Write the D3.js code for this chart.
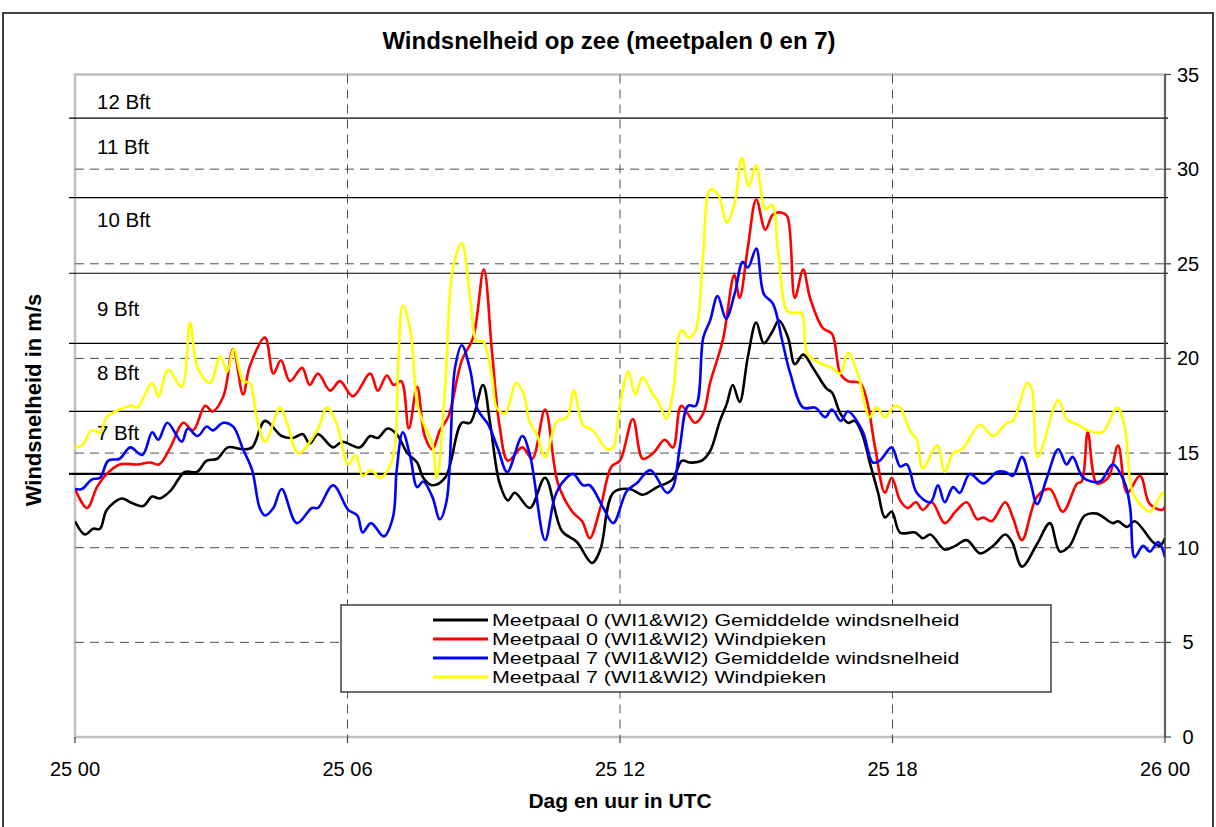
<!DOCTYPE html>
<html><head><meta charset="utf-8">
<script src="https://cdn.jsdelivr.net/npm/d3@7"></script>
<style>html,body{margin:0;padding:0;background:#fff}svg{display:block}text{font-family:"Liberation Sans",Arial,sans-serif}</style>
</head><body><div id="chart"></div>
<script>
// ---- data (minutes after 25 00 UTC, m/s) ----
const xTickMinutes = [0, 360, 720, 1080, 1440];
const xTickLabels = ["25 00", "25 06", "25 12", "25 18", "26 00"];
const yTicks = [0, 5, 10, 15, 20, 25, 30, 35];
const gridValues = [5, 10, 15, 20, 25, 30];
const bftLimits = [13.9, 17.2, 20.8, 24.5, 28.5, 32.7];
const bftLabels = ["7 Bft", "8 Bft", "9 Bft", "10 Bft", "11 Bft", "12 Bft"];
const bftLabelPos = [16.1, 19.27, 22.65, 27.35, 31.2, 33.6];
const seriesNames = [
  "Meetpaal 0 (WI1&WI2) Gemiddelde windsnelheid",
  "Meetpaal 0 (WI1&WI2) Windpieken",
  "Meetpaal 7 (WI1&WI2) Gemiddelde windsnelheid",
  "Meetpaal 7 (WI1&WI2) Windpieken"];
const seriesColors = ["#000000", "#ff0000", "#0000ff", "#ffff00"];

const mp0Mean = [[0,11.4],[13,10.7],[24,11.0],[33,11.0],[42,12.0],[62,12.6],[73,12.4],[90,12.2],[102,12.7],[112,12.6],[126,13.0],[145,14.0],[161,14.0],[174,14.6],[188,14.7],[202,15.3],[222,15.2],[234,15.3],[251,16.7],[273,15.9],[288,15.8],[301,16.0],[310,15.5],[321,16.0],[341,15.3],[353,15.6],[376,15.3],[390,15.9],[400,15.8],[413,16.3],[425,16.0],[439,15.0],[452,14.5],[460,13.7],[472,13.3],[489,13.7],[511,16.6],[522,16.6],[539,18.6],[548,16.7],[561,13.4],[572,12.5],[581,12.9],[601,12.1],[621,13.7],[643,10.9],[663,10.3],[683,9.2],[694,9.9],[711,12.9],[733,13.1],[750,12.8],[769,13.2],[789,13.6],[802,14.6],[812,14.5],[828,14.6],[839,15.1],[852,16.7],[861,17.6],[869,18.6],[878,17.7],[889,20.1],[900,21.9],[910,20.8],[921,21.4],[930,22.0],[942,21.1],[951,19.7],[962,20.2],[975,19.5],[993,18.4],[1000,18.2],[1011,17.1],[1021,16.6],[1030,16.7],[1040,16.0],[1050,14.5],[1061,12.9],[1070,11.6],[1079,11.9],[1090,10.8],[1110,10.8],[1120,10.5],[1130,10.7],[1149,9.9],[1163,10.1],[1178,10.4],[1196,9.7],[1213,10.1],[1229,10.7],[1238,10.3],[1251,9.0],[1271,10.2],[1288,11.3],[1301,9.8],[1314,10.1],[1334,11.7],[1350,11.8],[1371,11.3],[1378,11.4],[1390,11.1],[1400,11.4],[1424,10.3],[1433,10.1],[1440,10.5]];

const mp0Peak = [[0,13.1],[16,12.1],[29,13.2],[42,13.9],[59,14.4],[82,14.4],[99,14.5],[111,14.4],[126,15.3],[143,16.6],[156,16.2],[172,17.5],[182,17.2],[196,18.0],[209,20.5],[222,18.1],[231,19.6],[251,21.1],[262,19.2],[272,19.9],[284,18.8],[300,19.5],[310,18.6],[321,19.2],[337,18.3],[350,18.8],[367,18.0],[390,19.2],[400,18.3],[412,19.1],[421,18.6],[431,18.8],[441,16.3],[452,18.5],[462,15.9],[472,15.2],[482,16.2],[493,16.9],[511,19.9],[526,21.1],[540,24.7],[551,20.3],[561,16.4],[572,14.6],[591,15.3],[604,14.7],[621,17.3],[638,13.4],[657,11.9],[670,11.4],[680,10.5],[694,12.1],[709,14.3],[720,14.6],[737,16.8],[750,14.7],[764,15.0],[779,15.7],[790,15.3],[801,17.5],[819,16.6],[830,17.1],[839,18.7],[856,21.0],[871,24.4],[878,23.2],[889,25.9],[900,28.4],[912,26.8],[922,27.6],[934,27.7],[941,27.5],[951,23.2],[962,24.7],[971,23.2],[988,21.6],[1000,21.3],[1011,19.2],[1021,18.8],[1037,18.7],[1046,17.8],[1057,15.3],[1070,12.9],[1079,13.7],[1090,12.5],[1100,12.1],[1111,12.4],[1120,12.0],[1132,12.4],[1149,11.3],[1163,11.9],[1178,12.4],[1192,11.5],[1200,11.6],[1211,11.4],[1229,12.4],[1239,11.6],[1251,10.4],[1271,12.7],[1288,13.1],[1305,11.9],[1324,13.4],[1330,13.5],[1338,16.1],[1350,13.4],[1365,13.7],[1378,15.4],[1390,12.9],[1407,13.8],[1420,12.3],[1437,12.0],[1440,12.2]];

const mp7Mean = [[0,13.1],[9,13.1],[22,13.6],[33,13.7],[44,14.6],[59,14.7],[73,15.3],[89,14.9],[102,16.1],[110,15.7],[122,16.6],[141,15.6],[149,16.3],[162,15.9],[174,16.4],[182,16.2],[196,16.6],[209,16.4],[222,15.2],[234,14.1],[244,12.1],[251,11.7],[262,12.1],[273,13.1],[293,11.3],[313,12.1],[321,12.1],[341,13.3],[361,12.0],[373,11.7],[380,10.8],[391,11.3],[408,10.6],[420,11.6],[425,14.1],[433,16.1],[443,14.8],[452,13.2],[460,13.5],[472,12.7],[482,11.5],[491,12.5],[502,19.5],[511,20.7],[522,19.4],[532,17.3],[546,16.5],[559,15.2],[571,14.0],[591,15.9],[601,14.9],[621,10.4],[634,12.7],[645,13.5],[658,13.9],[671,13.3],[680,13.3],[698,12.1],[711,11.3],[729,13.0],[742,13.4],[760,14.1],[782,12.9],[790,13.2],[799,15.3],[810,17.5],[820,17.5],[830,21.1],[839,22.0],[849,23.3],[860,22.1],[872,23.5],[882,25.1],[889,24.8],[900,25.8],[910,23.4],[922,22.9],[935,20.8],[945,19.2],[962,17.4],[978,17.4],[991,16.9],[1000,17.3],[1012,16.7],[1021,17.2],[1040,16.2],[1054,14.5],[1063,14.6],[1079,15.3],[1090,14.3],[1099,14.4],[1112,12.9],[1130,12.4],[1140,13.3],[1149,12.4],[1160,13.2],[1169,12.9],[1182,13.9],[1200,13.4],[1218,14.0],[1229,14.0],[1239,13.8],[1251,14.8],[1262,13.5],[1271,12.3],[1284,13.7],[1299,15.2],[1310,14.4],[1318,14.8],[1332,13.7],[1354,13.5],[1371,14.4],[1387,13.4],[1394,12.1],[1400,9.5],[1411,10.1],[1420,9.8],[1431,10.3],[1440,9.5]];

const mp7Peak = [[0,15.3],[9,15.4],[22,16.2],[33,16.1],[42,16.9],[59,17.3],[75,17.5],[82,17.4],[102,18.7],[110,18.0],[123,19.4],[141,18.5],[152,21.9],[162,19.5],[178,18.7],[192,20.1],[201,19.3],[210,20.5],[222,18.8],[231,18.7],[240,16.9],[251,15.6],[271,17.4],[280,16.6],[295,15.0],[320,16.2],[333,17.4],[346,16.5],[361,14.4],[371,14.9],[380,13.8],[391,14.1],[403,13.7],[416,14.3],[423,15.5],[427,19.7],[433,22.8],[443,21.5],[452,17.6],[460,16.6],[472,15.5],[478,13.7],[489,18.5],[499,24.7],[511,26.1],[522,23.2],[531,20.9],[539,20.9],[551,19.0],[557,17.4],[568,17.1],[583,18.7],[592,18.2],[601,16.6],[610,16.0],[621,14.8],[637,16.7],[650,16.9],[659,18.3],[671,16.5],[684,16.2],[703,15.2],[711,15.3],[720,17.6],[731,19.3],[740,18.1],[750,19.0],[762,18.2],[772,17.6],[781,16.8],[790,18.2],[801,21.5],[811,21.1],[820,21.5],[830,25.6],[839,28.9],[849,28.7],[861,27.2],[871,28.1],[881,30.6],[890,29.1],[900,30.2],[912,27.9],[921,28.1],[929,25.6],[941,22.5],[951,22.4],[960,22.4],[968,20.2],[988,19.7],[1000,19.5],[1011,19.2],[1021,20.3],[1034,19.2],[1050,16.9],[1059,17.4],[1070,16.9],[1083,17.5],[1090,17.4],[1103,16.2],[1112,15.7],[1120,14.2],[1139,15.4],[1149,14.0],[1160,15.0],[1172,15.2],[1182,15.8],[1196,16.5],[1213,15.9],[1231,16.6],[1239,16.7],[1258,18.7],[1264,18.4],[1272,14.8],[1299,17.8],[1310,16.8],[1325,16.5],[1338,16.2],[1357,16.1],[1377,17.4],[1387,16.3],[1396,13.1],[1407,12.3],[1420,11.9],[1437,12.9],[1440,12.6]];

const allSeries = [mp0Mean, mp0Peak, mp7Mean, mp7Peak];

// ---- drawing ----
const W = 1216, H = 827;
const L = 75, R = 1165, T = 74.5, B = 737;
const svg = d3.select("#chart").append("svg").attr("width", W).attr("height", H);
svg.append("rect").attr("width", W).attr("height", H).attr("fill", "#fff");

const x = d3.scaleLinear().domain([0, 1440]).range([L, R]);
const y = d3.scaleLinear().domain([0, 35]).range([B, T]);

// outer frame
svg.append("path").attr("d", `M3,${H} V13 H1213 V${H}`).attr("fill", "none")
  .attr("stroke", "#404040").attr("stroke-width", 2);

// plot area frame
svg.append("rect").attr("x", L).attr("y", T).attr("width", R - L).attr("height", B - T)
  .attr("fill", "none").attr("stroke", "#c0c0c0").attr("stroke-width", 2.5);

// dashed grid
const grid = svg.append("g").attr("stroke", "#505050").attr("stroke-width", 1).attr("stroke-dasharray", "9,6");
grid.selectAll("line.h").data(gridValues).join("line").attr("class", "h")
  .attr("x1", L).attr("x2", R).attr("y1", d => y(d)).attr("y2", d => y(d));
grid.selectAll("line.v").data(xTickMinutes.slice(1, -1)).join("line").attr("class", "v")
  .attr("x1", d => x(d)).attr("x2", d => x(d)).attr("y1", T).attr("y2", B);

// Beaufort limits
svg.append("g").selectAll("line").data(bftLimits).join("line")
  .attr("x1", 69).attr("x2", 1168).attr("y1", d => y(d)).attr("y2", d => y(d))
  .attr("stroke", "#000").attr("stroke-width", (d, i) => i === 0 ? 2.2 : 1.2);
svg.append("g").selectAll("text").data(bftLabels).join("text")
  .attr("x", 97).attr("y", (d, i) => y(bftLabelPos[i]) + 7.5)
  .attr("font-size", 20.5).attr("fill", "#000").text(d => d);

// series
svg.append("clipPath").attr("id", "pc").append("rect")
  .attr("x", L).attr("y", T - 5).attr("width", R - L).attr("height", B - T + 5);
const line = d3.line().x(d => x(d[0])).y(d => y(d[1])).curve(d3.curveCatmullRom.alpha(0.5));
svg.append("g").attr("clip-path", "url(#pc)").selectAll("path").data(allSeries).join("path")
  .attr("d", line).attr("fill", "none").attr("stroke", (d, i) => seriesColors[i])
  .attr("stroke-width", 2.6).attr("stroke-linejoin", "round");

// right axis
const ra = svg.append("g");
ra.append("line").attr("x1", R).attr("x2", R).attr("y1", T).attr("y2", B)
  .attr("stroke", "#404040").attr("stroke-width", 1.5);
ra.selectAll("line.t").data(yTicks).join("line").attr("class", "t")
  .attr("x1", R).attr("x2", R + 6).attr("y1", d => y(d)).attr("y2", d => y(d))
  .attr("stroke", "#404040").attr("stroke-width", 1.2);
ra.selectAll("text").data(yTicks).join("text")
  .attr("x", 1188).attr("y", d => y(d) + 7).attr("text-anchor", "middle")
  .attr("font-size", 20).text(d => d);

// bottom axis
const ba = svg.append("g");
ba.selectAll("line").data(xTickMinutes).join("line")
  .attr("x1", d => x(d)).attr("x2", d => x(d)).attr("y1", B).attr("y2", B + 6)
  .attr("stroke", "#404040").attr("stroke-width", 1.2);
ba.selectAll("text").data(xTickMinutes).join("text")
  .attr("x", d => x(d)).attr("y", 776).attr("text-anchor", "middle")
  .attr("font-size", 20).text((d, i) => xTickLabels[i]);

// titles
svg.append("text").attr("x", 609).attr("y", 49).attr("text-anchor", "middle")
  .attr("font-size", 24).attr("font-weight", "bold").text("Windsnelheid op zee (meetpalen 0 en 7)");
svg.append("text").attr("x", 620).attr("y", 808).attr("text-anchor", "middle")
  .attr("font-size", 21).attr("font-weight", "bold").text("Dag en uur in UTC");
svg.append("text").attr("transform", "translate(41,400) rotate(-90)").attr("text-anchor", "middle")
  .attr("font-size", 22).attr("font-weight", "bold").text("Windsnelheid in m/s");

// legend
const lg = svg.append("g");
lg.append("rect").attr("x", 341).attr("y", 605).attr("width", 710).attr("height", 87)
  .attr("fill", "#fff").attr("stroke", "#404040").attr("stroke-width", 1.5);
const rows = lg.selectAll("g").data(seriesNames).join("g")
  .attr("transform", (d, i) => `translate(0,${620 + i * 19})`);
rows.append("line").attr("x1", 433).attr("x2", 488).attr("y1", 0).attr("y2", 0)
  .attr("stroke", (d, i) => seriesColors[i]).attr("stroke-width", 3);
const legendFont = 16.5, legendTarget = 21.4;
rows.append("text").attr("x", 492).attr("y", 6).attr("font-size", legendFont).text(d => d)
  .each(function () {
    const w = this.getComputedTextLength();
    d3.select(this).attr("textLength", w * legendTarget / legendFont).attr("lengthAdjust", "spacingAndGlyphs");
  });
</script></body></html>
